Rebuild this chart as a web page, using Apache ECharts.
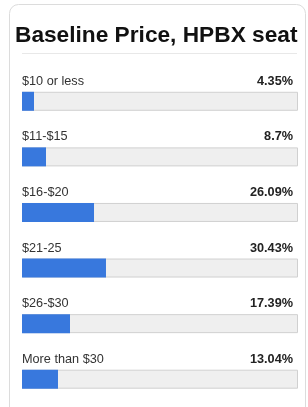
<!DOCTYPE html>
<html>
<head>
<meta charset="utf-8">
<script src="https://cdn.jsdelivr.net/npm/echarts@6/dist/echarts.min.js"></script>
<style>
html,body{margin:0;padding:0;background:#fff;}
#chart{width:308px;height:407px;}
</style>
</head>
<body>
<div id="chart"></div>
<script>
var titleText = 'Baseline Price, HPBX seat';
var categories = ['$10 or less', '$11-$15', '$16-$20', '$21-25', '$26-$30', 'More than $30'];
var percents = [4.35, 8.7, 26.09, 30.43, 17.39, 13.04];
var percentLabels = ['4.35%', '8.7%', '26.09%', '30.43%', '17.39%', '13.04%'];
var fullScale = [100, 100, 100, 100, 100, 100];

var chart = echarts.init(document.getElementById('chart'), null, {renderer: 'canvas'});
var font = 'Arial, "Liberation Sans", sans-serif';
var option = {
  animation: false,
  backgroundColor: '#fff',
  title: {
    text: titleText,
    left: 15,
    top: 24.5,
    padding: 0,
    textStyle: {fontFamily: font, fontSize: 22.7, fontWeight: 'bold', color: '#111'}
  },
  graphic: [
    {type: 'rect', shape: {x: 9.5, y: 4.5, width: 296, height: 420, r: 9}, style: {fill: null, stroke: '#dcdcdc', lineWidth: 1}, silent: true, z: -10},
    {type: 'line', shape: {x1: 22, y1: 53.5, x2: 297, y2: 53.5}, style: {stroke: '#e8e8e8', lineWidth: 1}, silent: true}
  ],
  grid: {left: 22, right: 10, top: 73.5, height: 342, containLabel: false},
  xAxis: {type: 'value', min: 0, max: 100, show: false},
  yAxis: {type: 'category', data: categories, inverse: true, show: false},
  series: [
    {
      type: 'bar', data: fullScale, barWidth: 19, silent: true,
      itemStyle: {color: '#efefef', borderColor: '#d0d0d0', borderWidth: 1},
      label: {
        show: true, position: [0, -10.5], align: 'left', verticalAlign: 'middle',
        fontFamily: font, fontSize: 12.7, color: '#333',
        formatter: function (p) { return categories[p.dataIndex]; }
      },
      z: 1
    },
    {
      type: 'bar', data: percents, barWidth: 19, barGap: '-100%', silent: true,
      itemStyle: {color: '#3878dd'},
      z: 2
    },
    {
      type: 'bar', data: fullScale, barWidth: 19, barGap: '-100%', silent: true,
      itemStyle: {color: 'rgba(0,0,0,0)'},
      label: {
        show: true, position: ['100%', -10.5], offset: [-5, 0], align: 'right', verticalAlign: 'middle',
        fontFamily: font, fontSize: 12.7, fontWeight: 'bold', color: '#222',
        formatter: function (p) { return percentLabels[p.dataIndex]; }
      },
      z: 3
    }
  ]
};
chart.setOption(option);
</script>
</body>
</html>
